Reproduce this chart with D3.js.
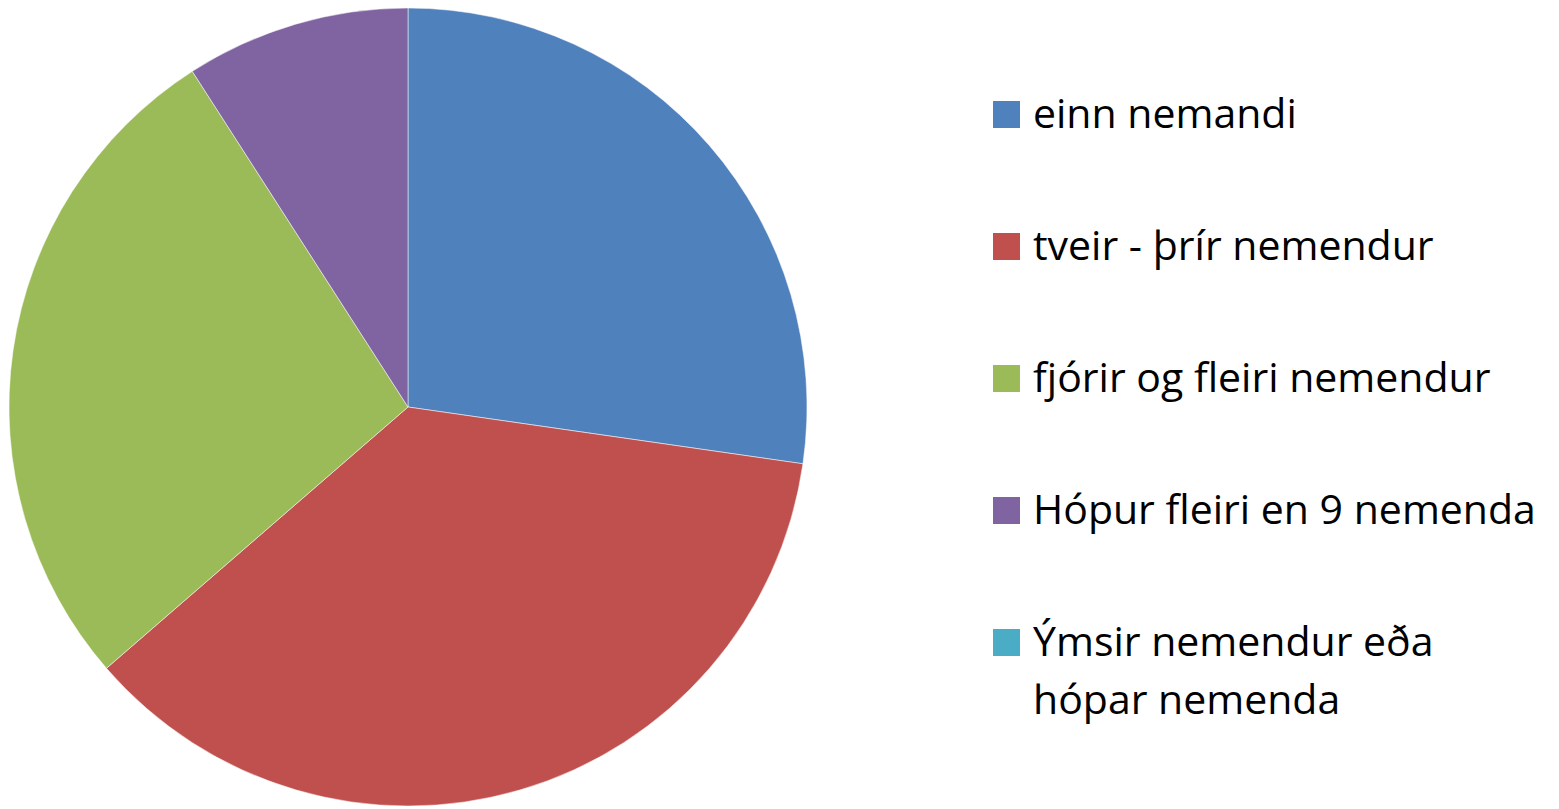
<!DOCTYPE html>
<html>
<head>
<meta charset="utf-8">
<script src="https://cdn.jsdelivr.net/npm/d3@7"></script>
<style>
html,body{margin:0;padding:0;background:#fff;}
svg{display:block;}
</style>
</head>
<body>
<svg id="chart" width="1559" height="809"></svg>
<script>
const categories = ["einn nemandi", "tveir - þrír nemendur", "fjórir og fleiri nemendur", "Hópur fleiri en 9 nemenda", "Ýmsir nemendur eða hópar nemenda"];
const values = [30, 40, 30, 10, 0];
const legendLines = [["einn nemandi"], ["tveir - þrír nemendur"], ["fjórir og fleiri nemendur"], ["Hópur fleiri en 9 nemenda"], ["Ýmsir nemendur eða", "hópar nemenda"]];
const colors = ["#4F81BD", "#C0504D", "#9BBB59", "#8064A2", "#4BACC6"];

const svg = d3.select("#chart");
const cx = 408, cy = 407, r = 399;

const pie = d3.pie().sort(null).value(d => d.v);
const arc = d3.arc().innerRadius(0).outerRadius(r);
const data = categories.map((c, i) => ({c, v: values[i], i}));

svg.append("g").attr("transform", `translate(${cx},${cy})`)
  .selectAll("path").data(pie(data).filter(d => d.data.v > 0)).join("path")
  .attr("d", arc)
  .attr("fill", d => colors[d.data.i])
  .attr("stroke", "rgba(255,255,255,0.5)")
  .attr("stroke-width", 1);

const color = d3.scaleOrdinal().domain(categories).range(colors);
const legendY = d3.scalePoint().domain(categories).range([101, 629]);

const lg = svg.append("g");
const items = lg.selectAll("g").data(categories).join("g")
  .attr("transform", d => `translate(993,${legendY(d)})`);
items.append("rect").attr("width", 27).attr("height", 27).attr("fill", d => color(d));
items.each(function(d, i) {
  const t = d3.select(this).append("text")
    .attr("x", 40)
    .attr("font-family", "'Open Sans', sans-serif")
    .attr("font-size", 41)
    .attr("fill", "#000");
  legendLines[i].forEach((line, j) => {
    t.append("tspan").attr("x", 40).attr("y", 27 + j * 58).text(line);
  });
});
</script>
</body>
</html>
